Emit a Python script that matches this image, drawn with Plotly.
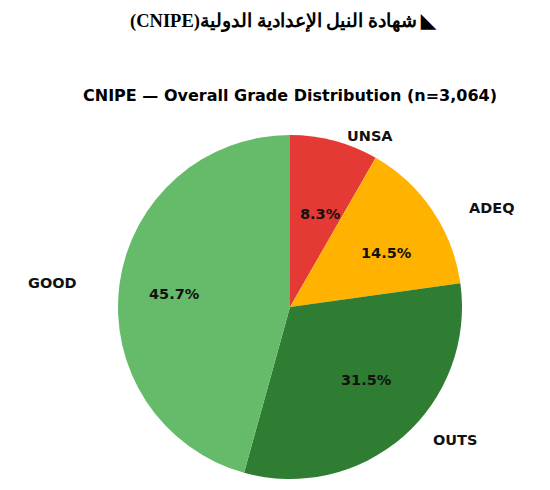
import math
import plotly.graph_objects as go

# grade shares (percent of n=3,064)
grades = ["UNSA", "ADEQ", "OUTS", "GOOD"]
shares = [8.3, 14.5, 31.5, 45.7]
colors = ["#e53935", "#ffb300", "#2e7d32", "#66bb6a"]
n_students = 3064

header = "\u202b◣ شهادة النيل الإعدادية الدولية(CNIPE)\u202c"
title = "CNIPE — Overall Grade Distribution (n={:,})".format(n_students)

W, H = 550, 490
cx, cy = 290, 307      # pie centre in px
R = 172                # pie radius in px
rx, ry = 194, 161      # spread used to place the text

fig = go.Figure()
fig.add_trace(go.Pie(
    labels=grades, values=shares, sort=False,
    direction="clockwise", rotation=0,
    marker=dict(colors=colors, line=dict(width=0)),
    textinfo="none", hoverinfo="label+percent",
    domain=dict(x=[(cx - R) / W, (cx + R) / W], y=[1 - (cy + R) / H, 1 - (cy - R) / H]),
    showlegend=False,
))

lab_font = dict(family="DejaVu Sans", size=14.5, color="#111111", weight="bold")
annots = []
total = sum(shares)
start = 90.0
for g, s in zip(grades, shares):
    sweep = 360.0 * s / total
    mid = math.radians(start - sweep / 2)
    start -= sweep
    c, sn = math.cos(mid), math.sin(mid)
    # percentage inside the slice
    annots.append(dict(
        x=(cx + 0.6 * rx * c) / W, y=1 - (cy - 0.6 * ry * sn) / H,
        xref="paper", yref="paper", text="{:.1f}%".format(s),
        showarrow=False, xanchor="center", yanchor="middle", font=lab_font,
    ))
    # grade label outside
    annots.append(dict(
        x=(cx + 1.1 * rx * c) / W, y=1 - (cy - 1.1 * ry * sn) / H,
        xref="paper", yref="paper", text=g, showarrow=False,
        xanchor="left" if c > 0 else "right", yanchor="middle", font=lab_font,
    ))

annots.append(dict(
    x=283 / W, y=1 - 22 / H, xref="paper", yref="paper", text=header,
    showarrow=False, xanchor="center", yanchor="middle",
    font=dict(family="Liberation Serif", size=18.5, color="#000000", weight="bold"),
))
annots.append(dict(
    x=289.5 / W, y=1 - 95 / H, xref="paper", yref="paper", text=title,
    showarrow=False, xanchor="center", yanchor="middle",
    font=dict(family="DejaVu Sans", size=16, color="#000000", weight="bold"),
))

fig.update_layout(
    width=W, height=H, autosize=False,
    margin=dict(l=0, r=0, t=0, b=0),
    paper_bgcolor="white", plot_bgcolor="white",
    annotations=annots,
)

fig.write_html("out.html", config={"displayModeBar": False},
               post_script="document.body.style.margin='0';")
